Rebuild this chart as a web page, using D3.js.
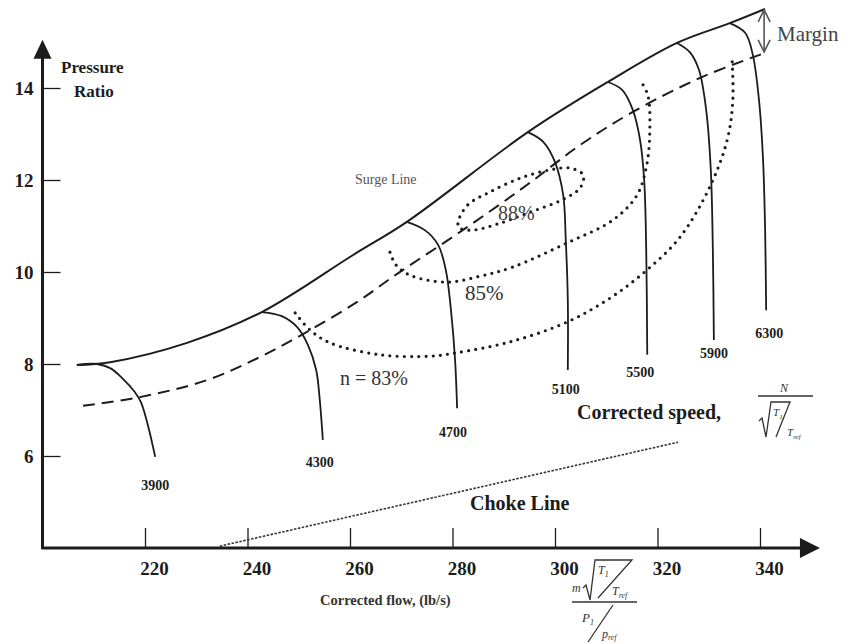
<!DOCTYPE html>
<html>
<head>
<meta charset="utf-8">
<script src="https://cdn.jsdelivr.net/npm/d3@7"></script>
<style>
  body { margin: 0; background: #fff; }
  svg { display: block; font-family: "Liberation Serif", "Times New Roman", serif; }
</style>
</head>
<body>
<svg id="chart" width="853" height="644"></svg>
<script>
// ---- Compressor map data: [corrected flow (lb/s), pressure ratio] ----
const xTicks = [220, 240, 260, 280, 300, 320, 340];
const yTicks = [6, 8, 10, 12, 14];

const surgeLine = [[206.7, 7.98], [213.2, 8.04], [228.2, 8.46], [242.8, 9.13], [260.6, 10.37],
  [271.1, 11.09], [294.7, 13.04], [310.3, 14.13], [323.8, 14.98], [334.1, 15.41], [341.0, 15.72]];

const operatingLine = [[207.9, 7.09], [219.0, 7.28], [232.1, 7.65], [242.4, 8.15], [251.6, 8.70],
  [261.4, 9.35], [269.2, 9.96], [282.0, 10.91], [294.5, 11.89], [304.9, 12.76], [315.2, 13.48],
  [328.3, 14.22], [340.4, 14.74]];

const speedNames = ["3900", "4300", "4700", "5100", "5500", "5900", "6300"];
const speed3900 = [[206.7, 7.98], [210.6, 8.0], [213.2, 7.91], [215.5, 7.70], [218.0, 7.39], [219.2, 7.17], [220.4, 6.74], [222.0, 5.98]];
const speed4300 = [[242.8, 9.13], [246.7, 9.04], [249.7, 8.80], [251.8, 8.41], [253.4, 7.87], [254.1, 7.22], [254.7, 6.35]];
const speed4700 = [[271.1, 11.09], [274.6, 10.91], [277.2, 10.59], [278.7, 10.04], [279.7, 9.17], [280.5, 8.09], [280.9, 7.04]];
const speed5100 = [[294.7, 13.04], [297.7, 12.83], [300.0, 12.39], [301.6, 11.67], [302.1, 10.70], [302.5, 9.39], [302.5, 7.87]];
const speed5500 = [[310.3, 14.13], [313.1, 13.96], [315.2, 13.52], [316.6, 12.87], [317.4, 12.0], [317.8, 10.48], [318.0, 8.20]];
const speed5900 = [[323.8, 14.98], [326.3, 14.78], [328.1, 14.39], [329.5, 13.52], [330.4, 12.22], [330.8, 10.48], [331.0, 8.52]];
const speed6300 = [[334.1, 15.41], [337.1, 15.20], [338.6, 14.72], [339.8, 13.74], [340.6, 12.43], [341.0, 10.91], [341.2, 9.17]];

const eff83 = [[249.3, 9.11], [252.2, 8.74], [256.1, 8.46], [265.9, 8.20], [275.6, 8.17], [280.5, 8.24],
  [291.2, 8.48], [302.3, 8.91], [310.7, 9.43], [317.9, 10.04], [324.4, 10.76], [330.2, 11.85],
  [333.6, 12.87], [334.7, 13.74], [334.5, 14.72]];
const eff85 = [[267.8, 10.43], [269.0, 10.15], [271.7, 9.93], [278.9, 9.78], [285.4, 9.91], [291.8, 10.11],
  [302.3, 10.63], [311.3, 11.13], [316.0, 11.67], [317.9, 12.33], [318.5, 13.09], [318.1, 13.85], [316.6, 14.17]];
const eff88 = [[281.1, 11.09], [283.0, 11.46], [287.3, 11.74], [293.2, 12.04], [299.0, 12.22], [302.9, 12.26],
  [305.5, 12.11], [304.9, 11.83], [301.4, 11.57], [295.1, 11.30], [288.7, 11.04], [283.8, 10.91], [281.3, 10.96]];

const chokeLine = [[234.6, 4.04], [324.0, 6.30]];

// ---- Scales ----
const svg = d3.select("#chart");
const x = d3.scaleLinear().domain([200, 340]).range([42.5, 760]);
const y = d3.scaleLinear().domain([4, 14]).range([548, 88]);
const ink = "#1c1c1c";

const straight = d3.line().x(d => x(d[0])).y(d => y(d[1]));
const cr = d3.line().x(d => x(d[0])).y(d => y(d[1])).curve(d3.curveCatmullRom.alpha(0.5));
const closed = d3.line().x(d => x(d[0])).y(d => y(d[1])).curve(d3.curveCatmullRomClosed.alpha(0.5));

// ---- Axes ----
const yAxis = svg.append("g")
  .attr("transform", `translate(${x(200)},0)`)
  .call(d3.axisLeft(y).tickValues(yTicks).tickSizeInner(-18).tickSizeOuter(0).tickPadding(9));
const xAxis = svg.append("g")
  .attr("transform", `translate(0,${y(4)})`)
  .call(d3.axisBottom(x).tickValues(xTicks).tickSizeInner(-20).tickSizeOuter(0).tickPadding(14));

[yAxis, xAxis].forEach(g => {
  g.select(".domain").remove();
  g.selectAll(".tick line").attr("stroke", ink).attr("stroke-width", 1.3);
  g.selectAll(".tick text")
    .attr("fill", ink)
    .style("font-family", '"Liberation Serif", serif')
    .style("font-size", "19px")
    .style("font-weight", "bold");
});
xAxis.selectAll(".tick text").attr("dx", 9);

// axis lines with arrowheads
const x0 = x(200), y0 = y(4);
const xTip = x(351.7), yTip = y(15.05);
svg.append("line").attr("x1", x0).attr("y1", y0 + 1).attr("x2", x0).attr("y2", yTip + 12)
  .attr("stroke", ink).attr("stroke-width", 3);
svg.append("line").attr("x1", x0 - 1).attr("y1", y0).attr("x2", xTip - 12).attr("y2", y0)
  .attr("stroke", ink).attr("stroke-width", 3);
svg.append("path").attr("d", `M${x0},${yTip} L${x0 - 9},${yTip + 19} L${x0 + 9},${yTip + 19} Z`).attr("fill", ink);
svg.append("path").attr("d", `M${xTip},${y0} L${xTip - 20},${y0 - 10} L${xTip - 20},${y0 + 10} Z`).attr("fill", ink);

// ---- Choke line ----
svg.append("path").attr("d", straight(chokeLine))
  .attr("fill", "none").attr("stroke", "#333").attr("stroke-width", 1.6)
  .attr("stroke-dasharray", "2.5,1.5");

// ---- Efficiency islands (dotted) ----
const dotted = (data, gen) => svg.append("path").attr("d", gen(data))
  .attr("fill", "none").attr("stroke", ink).attr("stroke-width", 3.2)
  .attr("stroke-linecap", "round").attr("stroke-dasharray", "0,7.2");
dotted(eff83, cr);
dotted(eff85, cr);
dotted(eff88, closed);

// ---- Operating line (dashed) ----
svg.append("path").attr("d", cr(operatingLine))
  .attr("fill", "none").attr("stroke", ink).attr("stroke-width", 2)
  .attr("stroke-dasharray", "12,7");

// ---- Speed lines ----
const speeds = [speed3900, speed4300, speed4700, speed5100, speed5500, speed5900, speed6300];
const labelOffset = [[0, 33], [-3, 27], [-4, 29], [-2, 24], [-7, 22], [0, 18], [3, 28]];
speeds.forEach((pts, i) => {
  svg.append("path").attr("d", cr(pts))
    .attr("fill", "none").attr("stroke", ink).attr("stroke-width", 1.8);
  const last = pts[pts.length - 1];
  svg.append("text")
    .attr("x", x(last[0]) + labelOffset[i][0])
    .attr("y", y(last[1]) + labelOffset[i][1])
    .attr("text-anchor", "middle")
    .attr("fill", ink)
    .style("font-size", "14px").style("font-weight", "bold")
    .text(speedNames[i]);
});

// ---- Surge line ----
svg.append("path").attr("d", cr(surgeLine))
  .attr("fill", "none").attr("stroke", ink).attr("stroke-width", 2);

// ---- Margin arrow between surge and operating line ends ----
const sEnd = surgeLine[surgeLine.length - 1], oEnd = operatingLine[operatingLine.length - 1];
const mx = x(sEnd[0]) - 1, mTop = y(sEnd[1]) + 1, mBot = y(oEnd[1]) - 2;
const mg = svg.append("g").attr("stroke", "#555").attr("stroke-width", 1.6).attr("fill", "none");
mg.append("line").attr("x1", mx).attr("y1", mTop).attr("x2", mx).attr("y2", mBot);
mg.append("path").attr("d", `M${mx - 6},${mTop + 12} L${mx},${mTop} L${mx + 6},${mTop + 12}`);
mg.append("path").attr("d", `M${mx - 6},${mBot - 12} L${mx},${mBot} L${mx + 6},${mBot - 12}`);
svg.append("text").attr("x", 777).attr("y", 41).attr("fill", "#444")
  .style("font-size", "21px").text("Margin");

// ---- Annotations ----
const ann = (txt, px, py, size, weight, color) => svg.append("text")
  .attr("x", px).attr("y", py).attr("fill", color)
  .style("font-size", size + "px").style("font-weight", weight)
  .text(txt);

ann("Pressure", 61, 73, 17, "bold", ink);
ann("Ratio", 74, 97, 17, "bold", ink);
ann("Surge Line", 355, 184, 14, "normal", "#555");
ann("88%", 498, 220, 20, "normal", "#444");
ann("85%", 465, 300, 21, "normal", "#333");
ann("n = 83%", 340, 385, 20, "normal", "#333");
ann("Corrected speed,", 577, 419, 20, "bold", ink);
ann("Choke Line", 470, 510, 20, "bold", ink);
ann("Corrected flow, (lb/s)", 320, 605, 14.5, "bold", "#333");

// corrected speed expression N / sqrt(T1/Tref)
const fs = svg.append("g").attr("stroke", "#333").attr("stroke-width", 1.3).attr("fill", "none");
const f1 = svg.append("g").attr("fill", "#333").style("font-style", "italic");
f1.append("text").attr("x", 780).attr("y", 392).style("font-size", "12px").text("N");
fs.append("line").attr("x1", 758).attr("y1", 396).attr("x2", 813).attr("y2", 396);
fs.append("path").attr("d", "M759,421 L762,418 L766,437 L771,402 L790,402 L776,437");
const t1 = f1.append("text").attr("x", 773).attr("y", 416).style("font-size", "11px");
t1.append("tspan").text("T");
t1.append("tspan").attr("dy", 3).style("font-size", "7px").text("1");
const t2 = f1.append("text").attr("x", 787).attr("y", 436).style("font-size", "11px");
t2.append("tspan").text("T");
t2.append("tspan").attr("dy", 3).style("font-size", "7px").text("ref");

// corrected flow expression m sqrt(T1/Tref) / (P1/Pref)
const f2 = svg.append("g").attr("fill", "#333").style("font-style", "italic");
f2.append("text").attr("x", 572).attr("y", 592).style("font-size", "12px").text("m");
fs.append("path").attr("d", "M583,588 L586,585 L590,600 L595,560 L632,560 L598,598");
fs.append("line").attr("x1", 572).attr("y1", 602).attr("x2", 637).attr("y2", 602);
fs.append("line").attr("x1", 613).attr("y1", 605).attr("x2", 588).attr("y2", 642);
const t3 = f2.append("text").attr("x", 598).attr("y", 574).style("font-size", "12px");
t3.append("tspan").text("T");
t3.append("tspan").attr("dy", 3).style("font-size", "8px").text("1");
const t4 = f2.append("text").attr("x", 612).attr("y", 595).style("font-size", "12px");
t4.append("tspan").text("T");
t4.append("tspan").attr("dy", 3).style("font-size", "8px").text("ref");
const p1 = f2.append("text").attr("x", 582).attr("y", 622).style("font-size", "13px");
p1.append("tspan").text("P");
p1.append("tspan").attr("dy", 3).style("font-size", "8px").text("1");
const p2 = f2.append("text").attr("x", 602).attr("y", 638).style("font-size", "12px");
p2.append("tspan").text("p");
p2.append("tspan").attr("dy", 2).style("font-size", "8px").text("ref");
</script>
</body>
</html>
